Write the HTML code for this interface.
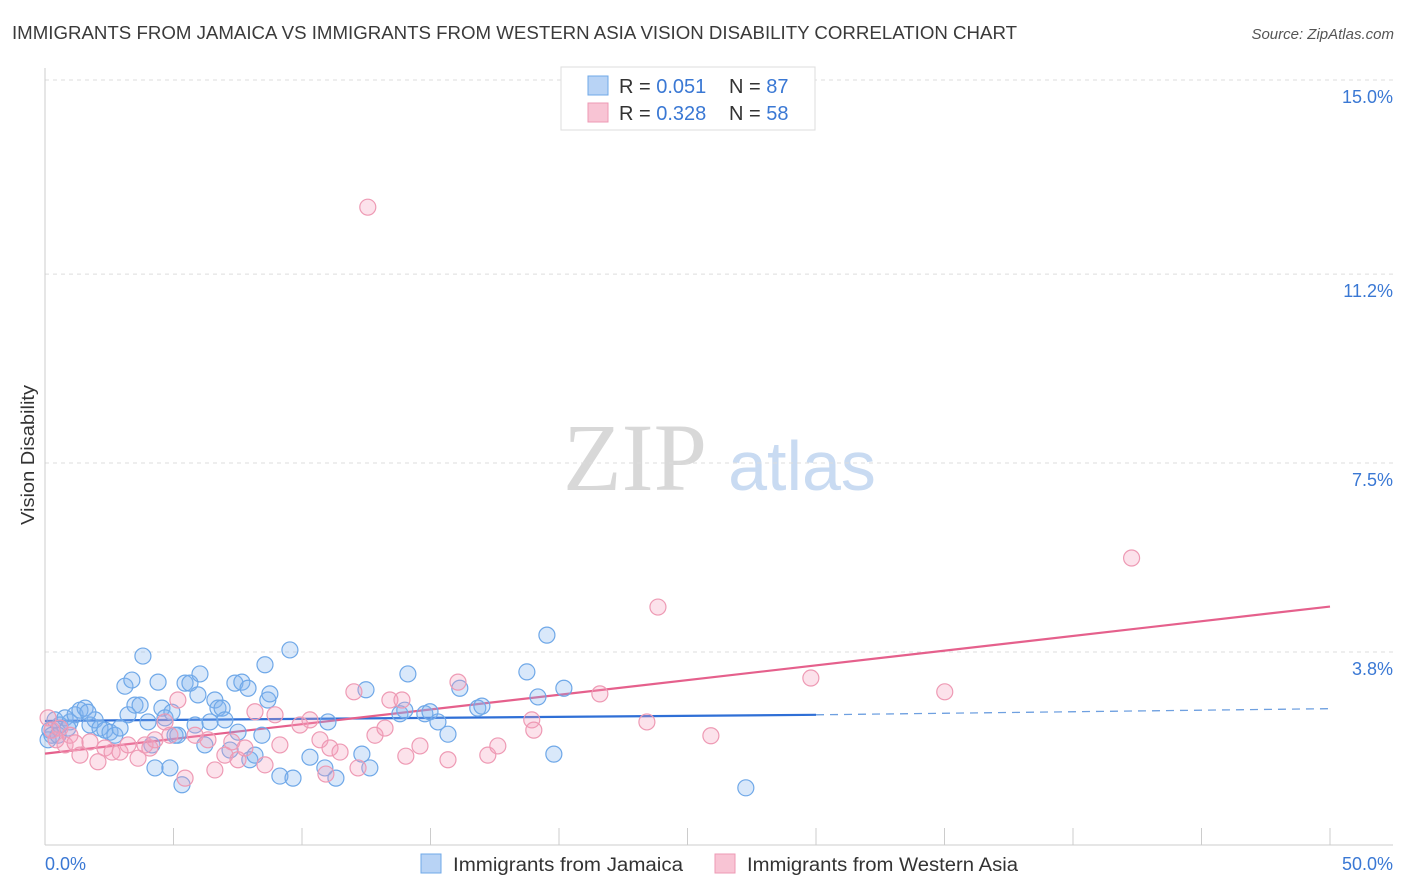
<!DOCTYPE html>
<html><head><meta charset="utf-8"><style>
body{margin:0;background:#fff;font-family:"Liberation Sans",sans-serif;}
svg{display:block}
</style></head><body>
<svg id="chart" width="1406" height="892" xmlns="http://www.w3.org/2000/svg" font-family="Liberation Sans, sans-serif">
<text x="12" y="39" font-size="18" fill="#3a3a3a" textLength="1005" lengthAdjust="spacingAndGlyphs">IMMIGRANTS FROM JAMAICA VS IMMIGRANTS FROM WESTERN ASIA VISION DISABILITY CORRELATION CHART</text>
<text x="1394" y="39" font-size="15" fill="#555" text-anchor="end" font-style="italic">Source: ZipAtlas.com</text>
<g>
<text x="635" y="490" font-size="96" fill="#d8d8d8" text-anchor="middle" font-family="Liberation Serif, serif">ZIP</text>
<text x="802" y="490" font-size="70" fill="#c9dbf2" text-anchor="middle">atlas</text>
</g>
<g id="grid"></g>
<g id="axes"></g>
<g id="trend"></g>
<g id="dots"></g>
<text transform="translate(34,455) rotate(-90)" font-size="18" fill="#333" text-anchor="middle" textLength="140" lengthAdjust="spacingAndGlyphs">Vision Disability</text>
<g>
<rect x="561" y="67" width="254" height="63" fill="#fff" stroke="#ddd"/>
<rect x="588" y="76" width="20" height="19" fill="#b8d3f5" stroke="#6fa8e8"/>
<rect x="588" y="103" width="20" height="19" fill="#f8c4d4" stroke="#ee9ab4"/>
<text x="619" y="93" font-size="20" fill="#333">R = <tspan fill="#3a78d4">0.051</tspan></text>
<text x="729" y="93" font-size="20" fill="#333">N = <tspan fill="#3a78d4">87</tspan></text>
<text x="619" y="120" font-size="20" fill="#333">R = <tspan fill="#3a78d4">0.328</tspan></text>
<text x="729" y="120" font-size="20" fill="#333">N = <tspan fill="#3a78d4">58</tspan></text>
</g>
<g>
<rect x="421" y="854" width="20" height="19" fill="#b8d3f5" stroke="#6fa8e8"/>
<text x="453" y="871" font-size="19" fill="#333" textLength="230" lengthAdjust="spacingAndGlyphs">Immigrants from Jamaica</text>
<rect x="715" y="854" width="20" height="19" fill="#f8c4d4" stroke="#ee9ab4"/>
<text x="747" y="871" font-size="19" fill="#333" textLength="271" lengthAdjust="spacingAndGlyphs">Immigrants from Western Asia</text>
</g>
</svg>
<script>
const yTicks=[3.8,7.5,11.2,15.0];
const yTickLabels=["3.8%","7.5%","11.2%","15.0%"];
const xTicks=[0,5,10,15,20,25,30,35,40,45,50];
const blueX=[0.19,0.39,0.58,0.78,0.97,1.17,1.36,1.56,1.75,1.95,2.14,2.33,2.53,2.72,2.92,3.11,3.23,3.38,3.50,3.70,3.81,4.01,4.16,4.28,4.40,4.55,4.67,4.86,4.94,5.06,5.17,5.33,5.45,5.64,5.84,5.95,6.03,6.22,6.42,6.61,6.73,6.89,7.00,7.20,7.39,7.51,7.66,7.90,7.97,8.17,8.44,8.56,8.67,8.75,9.14,9.53,9.65,10.31,10.89,11.01,11.32,12.33,12.49,12.64,13.81,14.00,14.12,14.78,14.98,15.29,15.68,16.14,16.84,17.00,18.75,19.18,19.53,19.80,20.19,27.27,0.12,0.27,0.51,0.89,1.67];
const blueY=[2.27,2.47,2.37,2.51,2.43,2.57,2.66,2.70,2.37,2.47,2.31,2.27,2.23,2.17,2.31,3.13,2.57,3.25,2.76,2.76,3.72,2.43,1.98,1.53,3.21,2.70,2.51,1.53,2.62,2.17,2.17,1.20,3.19,3.19,2.37,2.96,3.37,1.98,2.43,2.86,2.70,2.70,2.47,1.88,3.19,2.23,3.21,3.09,1.69,1.78,2.17,3.55,2.86,2.98,1.37,3.84,1.33,1.74,1.53,2.43,1.33,1.80,3.06,1.53,2.59,2.66,3.37,2.59,2.63,2.43,2.19,3.09,2.70,2.74,3.41,2.92,4.13,1.80,3.09,1.14,2.08,2.17,2.17,2.31,2.62];
const pinkX=[0.12,0.27,0.43,0.58,0.78,0.97,1.17,1.36,1.75,2.06,2.33,2.61,2.92,3.23,3.62,3.89,4.08,4.28,4.67,4.86,5.17,5.45,5.84,6.34,6.61,7.00,7.27,7.51,7.78,8.17,8.56,8.95,9.14,9.92,10.31,10.70,10.93,11.09,11.48,12.02,12.18,12.56,12.84,13.23,13.42,13.89,14.04,14.59,15.68,16.07,17.23,17.62,18.94,19.02,21.59,23.42,23.85,25.91,29.80,35.01,42.28];
const pinkY=[2.51,2.27,2.08,2.31,1.98,2.17,2.02,1.78,2.04,1.65,1.92,1.84,1.84,1.98,1.72,1.98,1.92,2.08,2.43,2.17,2.86,1.33,2.17,2.08,1.49,1.78,2.04,1.69,1.92,2.63,1.59,2.57,1.98,2.37,2.47,2.08,1.41,1.92,1.84,3.02,1.53,12.51,2.17,2.31,2.86,2.86,1.76,1.96,1.69,3.21,1.78,1.96,2.47,2.27,2.98,2.43,4.68,2.16,3.29,3.02,5.64];
const blueTrendX=[0,30,50];
const blueTrendY=[2.45,2.57,2.69];
const pinkTrendX=[0,50];
const pinkTrendY=[1.81,4.69];

const NS="http://www.w3.org/2000/svg";
const X0=45,X1=1330,Y15=80,YS=51.07;
function sx(v){return X0+v*(X1-X0)/50;}
function sy(v){return Y15+(15-v)*YS;}
function mk(tag,attrs,parent){const e=document.createElementNS(NS,tag);for(const k in attrs)e.setAttribute(k,attrs[k]);document.getElementById(parent).appendChild(e);return e;}

yTicks.forEach((t,i)=>{
 const l=mk('line',{x1:45,x2:1393,y1:sy(t),y2:sy(t),stroke:'#ddd','stroke-dasharray':'4,4'},'grid');
 
 
 const tx=mk('text',{x:1393,y:sy(t)+23,'font-size':18,fill:'#3a78d4','text-anchor':'end'},'axes');
 tx.textContent=yTickLabels[i];
 
 
});
const ax=mk('line',{x1:45,x2:1393,y1:845,y2:845,stroke:'#ccc'},'axes');


const ay=mk('line',{x1:45,x2:45,y1:68,y2:845,stroke:'#ccc'},'axes');


xTicks.forEach(t=>{
 const l=mk('line',{x1:sx(t),x2:sx(t),y1:828,y2:845,stroke:'#ccc'},'axes');
 
 
});
const xl0=mk('text',{x:45,y:870,'font-size':18,fill:'#3a78d4'},'axes');xl0.textContent='0.0%';


const xl1=mk('text',{x:1393,y:870,'font-size':18,fill:'#3a78d4','text-anchor':'end'},'axes');xl1.textContent='50.0%';



blueX.forEach((v,i)=>{
 const c=mk('circle',{cx:sx(v),cy:sy(blueY[i]),r:8,fill:'rgba(130,180,240,0.3)',stroke:'#6fa8e8','stroke-width':1.2},'dots');
 
 
});
pinkX.forEach((v,i)=>{
 const c=mk('circle',{cx:sx(v),cy:sy(pinkY[i]),r:8,fill:'rgba(244,160,190,0.3)',stroke:'#ee9ab4','stroke-width':1.2},'dots');
 
 
});
const b1=mk('line',{x1:sx(blueTrendX[0]),y1:sy(blueTrendY[0]),x2:sx(blueTrendX[1]),y2:sy(blueTrendY[1]),stroke:'#2f6fd6','stroke-width':2.2},'trend');


const b2=mk('line',{x1:sx(blueTrendX[1]),y1:sy(blueTrendY[1]),x2:sx(blueTrendX[2]),y2:sy(blueTrendY[2]),stroke:'#6fa0e0','stroke-width':1.3,'stroke-dasharray':'8,6'},'trend');


const p1=mk('line',{x1:sx(pinkTrendX[0]),y1:sy(pinkTrendY[0]),x2:sx(pinkTrendX[1]),y2:sy(pinkTrendY[1]),stroke:'#e5608c','stroke-width':2.2},'trend');


</script>
</body></html>
